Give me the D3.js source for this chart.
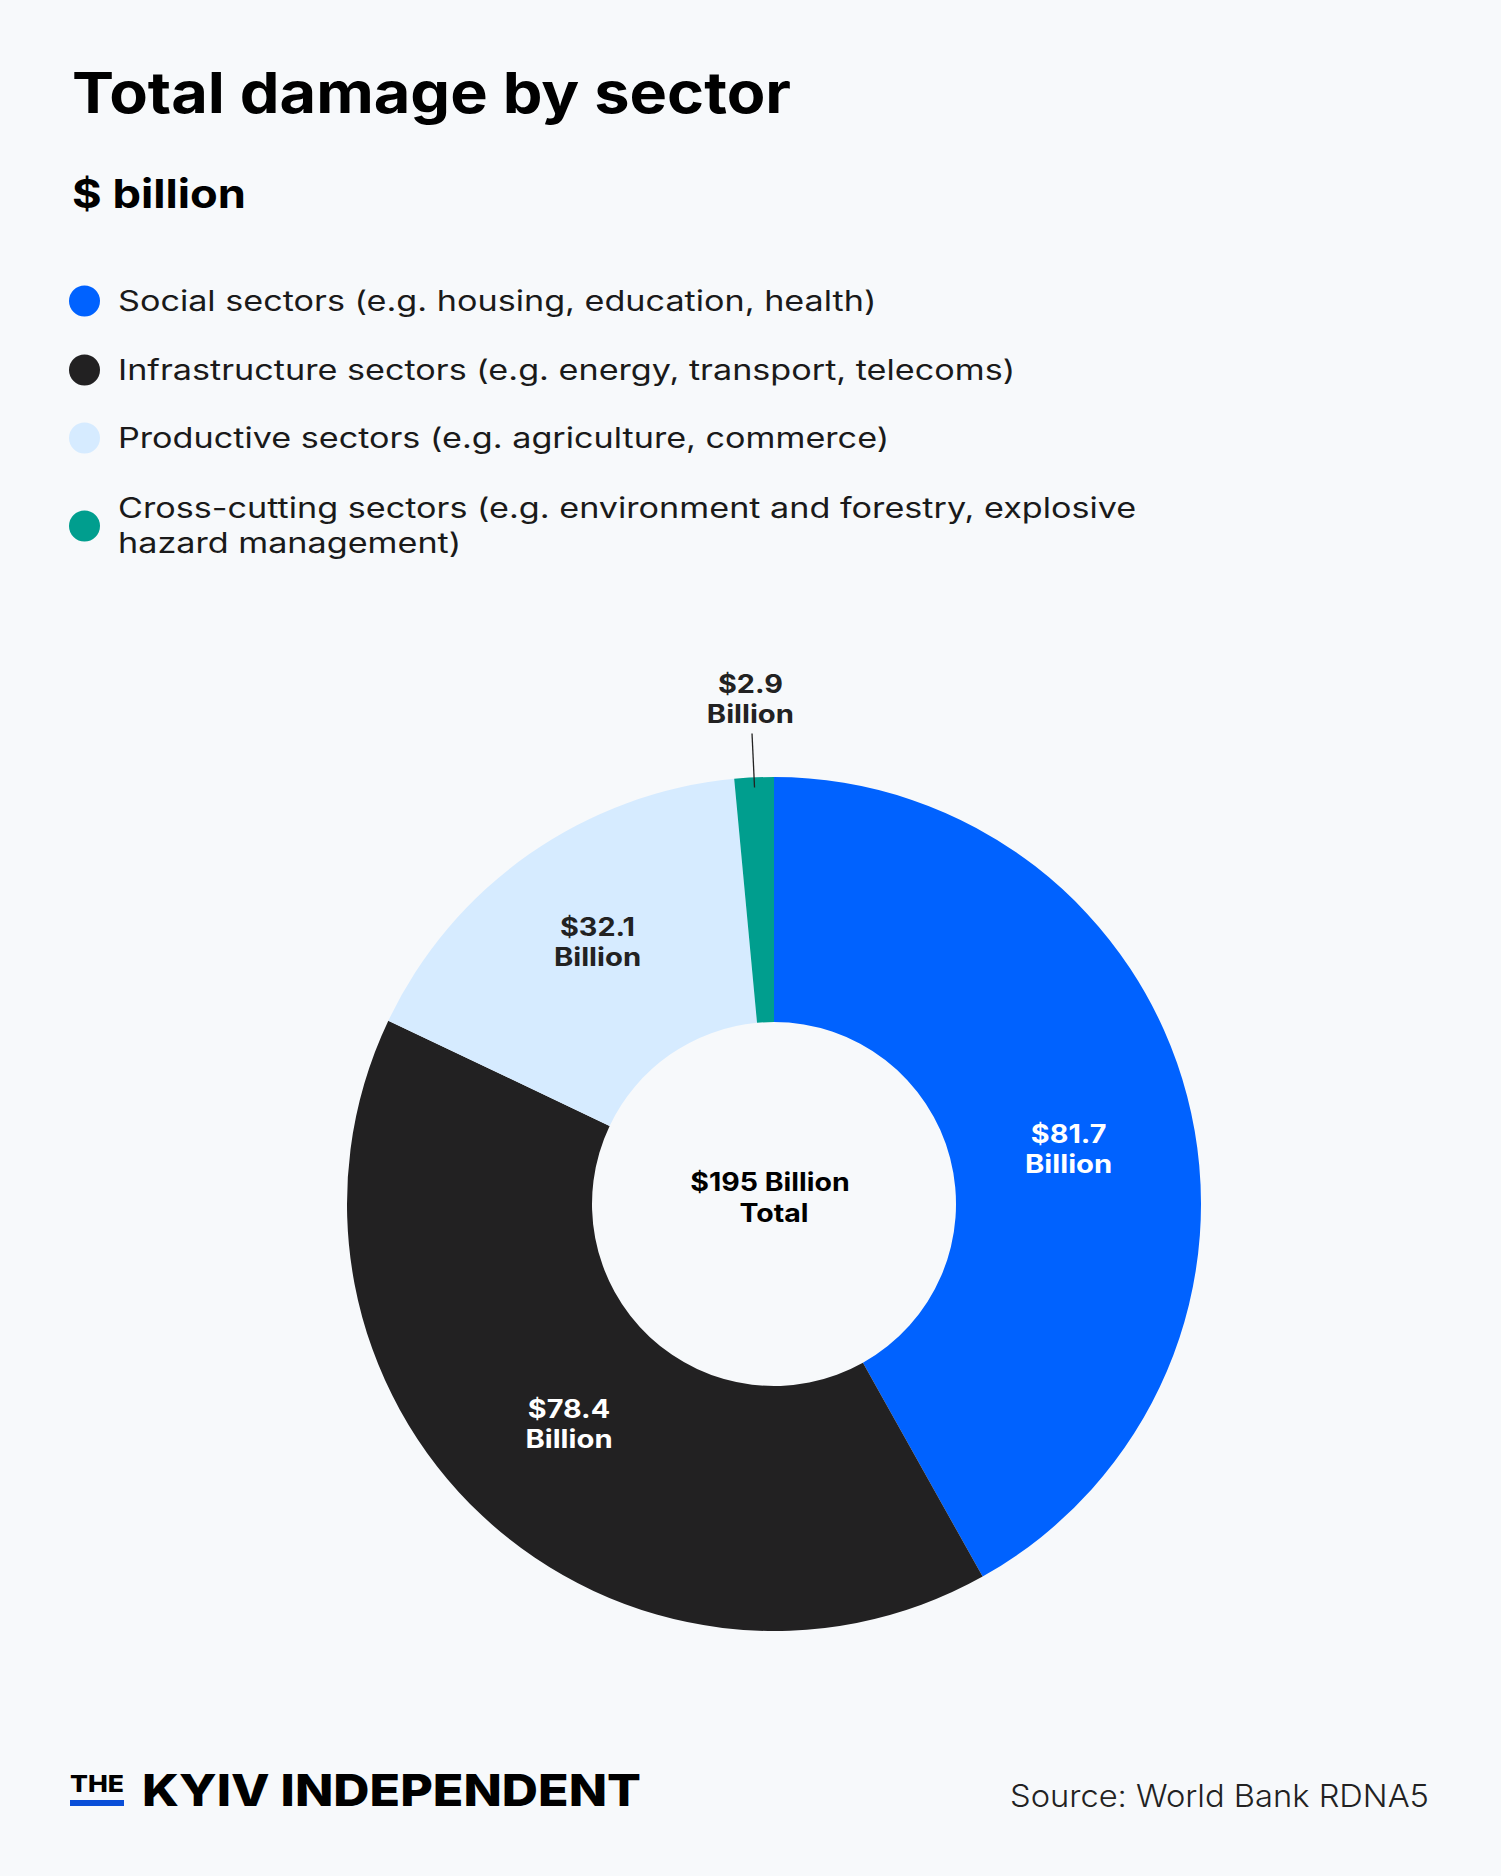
<!DOCTYPE html>
<html>
<head>
<meta charset="utf-8">
<script src="https://cdn.jsdelivr.net/npm/d3@7"></script>
<style>
  html, body { margin: 0; padding: 0; background: #f7f9fb; }
  svg { display: block; }
</style>
</head>
<body>
<svg id="chart" width="1501" height="1876"></svg>
<script>
// ---- Data ----
const categories = ["Social", "Infrastructure", "Productive", "Cross-cutting"];
const values = [81.7, 78.4, 32.1, 2.9];
const legendLabels = [
  ["Social sectors (e.g. housing, education, health)"],
  ["Infrastructure sectors (e.g. energy, transport, telecoms)"],
  ["Productive sectors (e.g. agriculture, commerce)"],
  ["Cross-cutting sectors (e.g. environment and forestry, explosive", "hazard management)"]
];
const sliceLabels = ["$81.7", "$78.4", "$32.1", "$2.9"];
const unitLabel = "Billion";
const colors = ["#0062ff", "#222122", "#d6ebff", "#009e8e"];
const labelColors = ["#ffffff", "#ffffff", "#222222", "#222222"];
const totalLabel = ["$195 Billion", "Total"];
const title = "Total damage by sector";
const subtitle = "$ billion";
const source = "Source: World Bank RDNA5";

// ---- Layout / style ----
const W = 1501, H = 1876;
const FONT = "Inter, 'Open Sans', sans-serif";
const labelNudge = [[0, 22], [3, -2], [-2, -12], [0, 0]];

const svg = d3.select("#chart");
svg.append("rect").attr("width", W).attr("height", H).attr("fill", "#f7f9fb");

function widen(sel, factor) {
  sel.each(function () {
    const w = this.getComputedTextLength();
    d3.select(this).attr("textLength", w * factor).attr("lengthAdjust", "spacingAndGlyphs");
  });
  return sel;
}
function fitTo(sel, width) {
  sel.attr("textLength", width).attr("lengthAdjust", "spacingAndGlyphs");
  return sel;
}

fitTo(svg.append("text").attr("x", 72).attr("y", 113)
  .attr("font-family", FONT).attr("font-weight", 700).attr("font-size", 57)
  .attr("fill", "#000").text(title), 719);

fitTo(svg.append("text").attr("x", 72).attr("y", 208)
  .attr("font-family", FONT).attr("font-weight", 700).attr("font-size", 40)
  .attr("fill", "#000").text(subtitle), 174);

// Legend
const legendY = [301, 370, 438, 526];
const legendBase = [311, 380, 448, 518];
const lg = svg.append("g");
categories.forEach((c, i) => {
  lg.append("circle").attr("cx", 84.5).attr("cy", legendY[i]).attr("r", 15.5).attr("fill", colors[i]);
  legendLabels[i].forEach((line, j) => {
    widen(lg.append("text").attr("x", 118).attr("y", legendBase[i] + j * 35)
      .attr("font-family", FONT).attr("font-weight", 400).attr("font-size", 28)
      .attr("fill", "#1a1a1a").text(line), 1.22);
  });
});

// Donut
const cx = 774, cy = 1204, R = 427, r = 182;
const pie = d3.pie().sort(null).startAngle(0).endAngle(2 * Math.PI);
const arcs = pie(values);
const arc = d3.arc().innerRadius(r).outerRadius(R);
const labelArc = d3.arc().innerRadius((r + R) / 2).outerRadius((r + R) / 2);
const g = svg.append("g").attr("transform", `translate(${cx},${cy})`);

g.selectAll("path").data(arcs).join("path")
  .attr("d", arc).attr("fill", (d, i) => colors[i]);

arcs.forEach((d, i) => {
  let x, y;
  if (i === 3) {
    const a = (d.startAngle + d.endAngle) / 2;
    const at = rad => d3.arc().innerRadius(rad).outerRadius(rad).centroid({startAngle: a, endAngle: a});
    const p1 = at(R - 10), p2 = at(R + 44);
    g.append("line").attr("x1", p1[0]).attr("y1", p1[1]).attr("x2", p2[0]).attr("y2", p2[1])
      .attr("stroke", "#222").attr("stroke-width", 1.3);
    [x, y] = at(R + 79);
  } else {
    [x, y] = labelArc.centroid(d);
  }
  x += labelNudge[i][0]; y += labelNudge[i][1];
  const t = g.append("text").attr("text-anchor", "middle")
    .attr("font-family", FONT).attr("font-weight", 700).attr("font-size", 25)
    .attr("fill", labelColors[i]);
  widen(t.append("tspan").attr("x", x).attr("y", y - 6).text(sliceLabels[i]), 1.15);
  widen(t.append("tspan").attr("x", x).attr("y", y + 24).text(unitLabel), 1.17);
});

const ct = g.append("text").attr("text-anchor", "middle")
  .attr("font-family", FONT).attr("font-weight", 700).attr("font-size", 25).attr("fill", "#000");
widen(ct.append("tspan").attr("x", -4).attr("y", -13).text(totalLabel[0]), 1.14);
widen(ct.append("tspan").attr("x", 0).attr("y", 18).text(totalLabel[1]), 1.14);

// Footer
fitTo(svg.append("text").attr("x", 70).attr("y", 1792)
  .attr("font-family", FONT).attr("font-weight", 800).attr("font-size", 23)
  .attr("fill", "#000").text("THE"), 54);
svg.append("rect").attr("x", 70).attr("y", 1800).attr("width", 54).attr("height", 6).attr("fill", "#0a4fd8");
fitTo(svg.append("text").attr("x", 142).attr("y", 1806)
  .attr("font-family", FONT).attr("font-weight", 800).attr("font-size", 44)
  .attr("fill", "#000").text("KYIV INDEPENDENT"), 499);

fitTo(svg.append("text").attr("x", 1010).attr("y", 1807)
  .attr("font-family", FONT).attr("font-weight", 300).attr("font-size", 31)
  .attr("fill", "#222").text(source), 419);
</script>
</body>
</html>
